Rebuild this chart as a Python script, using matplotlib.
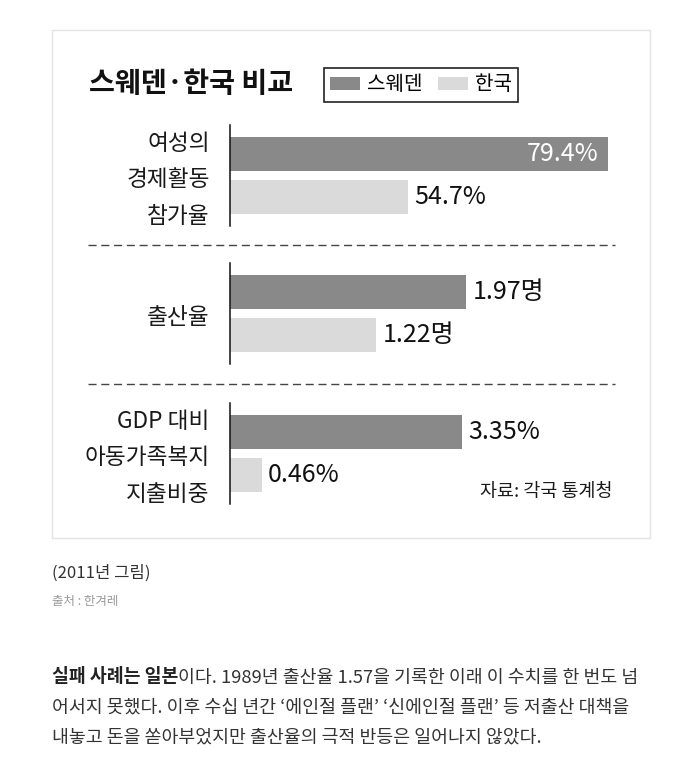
import matplotlib
matplotlib.use('Agg')
import matplotlib.pyplot as plt

plt.rcParams['font.family'] = ['Noto Sans CJK KR', 'DejaVu Sans']

# ─── DATA ────────────────────────────────────────────────────────
categories = [["여성의", "경제활동", "참가율"],
              ["출산율"],
              ["GDP 대비", "아동가족복지", "지출비중"]]
series_names = ["스웨덴", "한국"]
sweden = [79.4, 1.97, 3.35]
korea = [54.7, 1.22, 0.46]
units = ["%", "명", "%"]

title = "스웨덴·한국 비교"
source = "자료: 각국 통계청"
caption = "(2011년 그림)"
credit = "출처 : 한겨레"
body_bold = "실패 사례는 일본"
body_lines = ["이다. 1989년 출산율 1.57을 기록한 이래 이 수치를 한 번도 넘",
              "어서지 못했다. 이후 수십 년간 ‘에인절 플랜’ ‘신에인절 플랜’ 등 저출산 대책을",
              "내놓고 돈을 쏟아부었지만 출산율의 극적 반등은 일어나지 않았다."]

# ─── LAYOUT (pixels) ─────────────────────────────────────────────
W, H = 697, 768
DARK, LIGHT = "#898989", "#dadada"
AX_LEFT, AX_RIGHT = 230, 620
GROUP_TOPS = [125, 263, 403]
GROUP_H = 101
# each panel has its own scale in the original graphic
GROUP_XLIM = [(32.7, 80.9), (0, 3.255), (0, 5.63)]


def px_box(x0, y0, x1, y1):
    return [x0 / W, 1 - y1 / H, (x1 - x0) / W, (y1 - y0) / H]


fig = plt.figure(figsize=(W / 100, H / 100), dpi=100)

# background axes in pixel coordinates for frame and free text
bg = fig.add_axes([0, 0, 1, 1], zorder=0)
bg.set_xlim(0, W)
bg.set_ylim(H, 0)
bg.axis('off')

bg.add_patch(plt.Rectangle((52, 30), 598, 508, fill=False,
                           edgecolor='#e3e3e3', linewidth=1))
bg.text(89, 84, title, fontsize=20.3, fontweight='bold', color='#111',
        va='center', ha='left')

bar_handles = None
for g, top in enumerate(GROUP_TOPS):
    ax = fig.add_axes(px_box(AX_LEFT, top, AX_RIGHT, top + GROUP_H), zorder=1)
    ax.set_facecolor('none')
    vals = [sweden[g], korea[g]]
    bars = ax.barh([0, 1], vals, height=0.79, color=[DARK, LIGHT])
    if g == 0:
        bar_handles = [bars[0], bars[1]]
    ax.set_xlim(*GROUP_XLIM[g])
    ax.set_ylim(1.68, -0.67)
    for s in ['top', 'right', 'bottom']:
        ax.spines[s].set_visible(False)
    ax.spines['left'].set_linewidth(1.1)
    ax.spines['left'].set_color('#111')
    ax.set_xticks([])
    ax.set_yticks([])

    lo, hi = ax.get_xlim()
    for i, v in enumerate(vals):
        txt = f"{v}{units[g]}"
        if (v - lo) / (hi - lo) > 0.9:
            ax.annotate(txt, xy=(v, i), xytext=(-7, 0), textcoords='offset points',
                        ha='right', va='center', fontsize=18, color='white')
        else:
            ax.annotate(txt, xy=(v, i), xytext=(4.5, 0), textcoords='offset points',
                        ha='left', va='center', fontsize=18, color='#111')

    lines = categories[g]
    n = len(lines)
    for k, line in enumerate(lines):
        yk = 0.6 + (k - (n - 1) / 2) * 0.85
        ax.text(-0.052, yk, line, transform=ax.get_yaxis_transform(),
                ha='right', va='center', fontsize=16.3, color='#1a1a1a')

# dashed separators between panels
for a, b in zip(GROUP_TOPS[:-1], GROUP_TOPS[1:]):
    ymid = (a + GROUP_H + b) / 2
    bg.plot([88, 615], [ymid, ymid], color='#444', linewidth=1.0,
            linestyle=(0, (5.8, 3.4)))

bg.text(613, 492, source, ha='right', va='center', fontsize=13.3, color='#1a1a1a')

leg = bg.legend(bar_handles, series_names, loc='upper left',
                bbox_to_anchor=(324, 68), bbox_transform=bg.transData,
                borderaxespad=0, ncol=2, fontsize=14.5, frameon=True,
                fancybox=False, edgecolor='#222', framealpha=1,
                handlelength=1.45, handleheight=0.65, handletextpad=0.35,
                columnspacing=0.8, borderpad=0.32)
leg.get_frame().set_linewidth(1.2)

# caption and article text below the graphic
bg.text(52, 573, caption, fontsize=12, color='#333', va='center')
bg.text(52, 601, credit, fontsize=9, color='#999', va='center')

BODY_FS = 13.2
t = bg.text(52, 677, body_bold, fontsize=BODY_FS, fontweight='bold', color='#222',
            va='center')
bg.annotate(body_lines[0], xy=(1, 0), xycoords=t, va='bottom', ha='left',
            fontsize=BODY_FS, color='#333')
for j, line in enumerate(body_lines[1:]):
    bg.text(52, 707 + 30 * j, line, fontsize=BODY_FS, color='#333', va='center')

fig.savefig('out.png', dpi=100)
